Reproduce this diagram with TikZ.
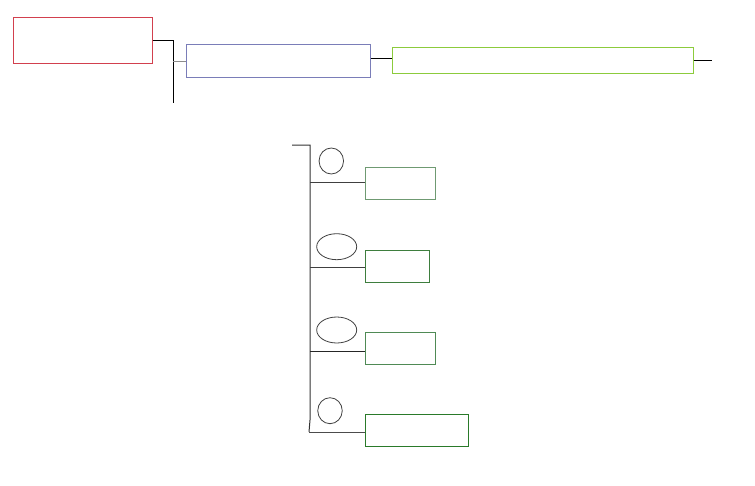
\documentclass[tikz,border=0pt]{standalone}
\usetikzlibrary{calc,shapes.geometric}
\definecolor{cred}{HTML}{D2404E}
\definecolor{cblue}{HTML}{7A7DB8}
\definecolor{cgreen}{HTML}{8CCB3C}
\definecolor{gA}{HTML}{6F9A72}
\definecolor{gB}{HTML}{3E7E3E}
\definecolor{gC}{HTML}{4F8A55}
\definecolor{gD}{HTML}{2A7A2A}
\tikzset{
  box/.style={draw, rectangle, inner sep=0pt, line width=1pt},
  oval/.style={draw=black!75, ellipse, inner sep=0pt, line width=0.8pt},
  wire/.style={line width=1pt, black},
}
\begin{document}
\begin{tikzpicture}[x=1pt,y=-1pt]
\useasboundingbox (0,0) rectangle (755,485);
% top row
\node[box, draw=cred, minimum width=139pt, minimum height=46pt] (red) at (82.5,40) {};
\node[box, draw=cblue, minimum width=184pt, minimum height=33pt] (blue) at (278,60.5) {};
\node[box, draw=cgreen, minimum width=301pt, minimum height=26pt] (green) at (542.5,60) {};
\coordinate (j1) at (173,40);
\coordinate (j1b) at (173,103);
\coordinate (endR) at (712,60);
\draw[wire] (red.east |- 0,40) -- (j1) -- (j1b);
\draw[wire, black!45] (173,61) -- (blue.west |- 0,61);
\draw[wire] (blue.east |- 0,58) -- (green.west |- 0,58);
\draw[wire] (green.east |- 0,60) -- (endR);
% lower tree
\coordinate (t0) at (292,145);
\coordinate (t1) at (310,145);
\coordinate (tb) at (309,432);
\node[box, draw=gA, minimum width=70pt, minimum height=32pt] (b1) at (400.5,183) {};
\node[box, draw=gB, minimum width=64pt, minimum height=32pt] (b2) at (397.3,266.3) {};
\node[box, draw=gC, minimum width=70pt, minimum height=32pt] (b3) at (400.5,348.3) {};
\node[box, draw=gD, minimum width=103pt, minimum height=32pt] (b4) at (417.3,430.2) {};
\node[oval, minimum width=24.5pt, minimum height=26pt] (o1) at (331.3,161) {};
\node[oval, minimum width=40pt, minimum height=26pt] (o2) at (336.7,246.7) {};
\node[oval, minimum width=40pt, minimum height=26pt] (o3) at (336.7,330) {};
\node[oval, minimum width=24.5pt, minimum height=26pt] (o4) at (330,410.7) {};
\draw[wire, black!80] (t0) -- (t1) -- (310,420) -- (tb);
\draw[wire, black!75] (310,182) -- (b1.west |- 0,182);
\draw[wire, black!75] (310,267.3) -- (b2.west |- 0,267.3);
\draw[wire, black!85] (310,351.3) -- (b3.west |- 0,351.3);
\draw[wire, black!70] (tb) -- (b4.west |- 0,432);
\end{tikzpicture}
\end{document}
